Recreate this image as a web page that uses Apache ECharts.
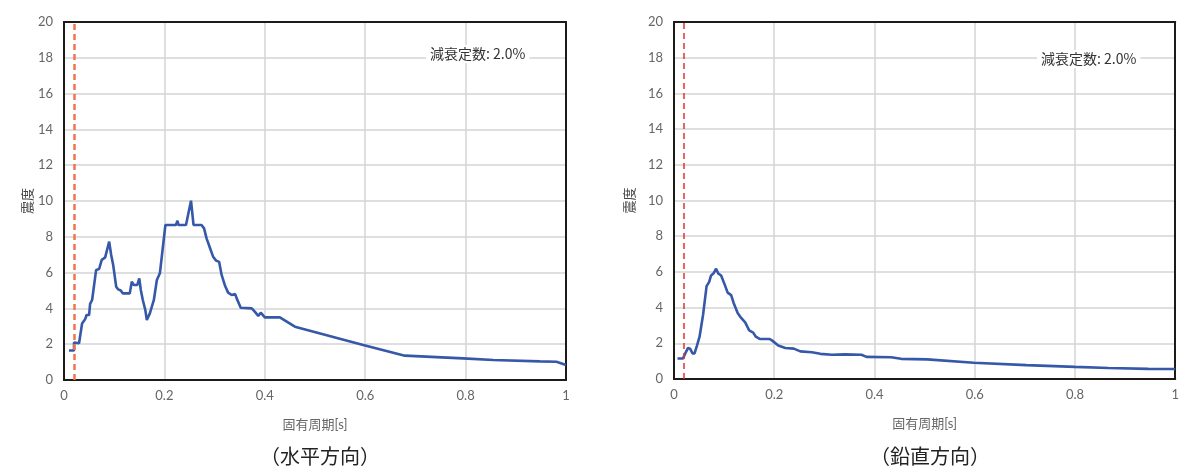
<!DOCTYPE html>
<html>
<head>
<meta charset="utf-8">
<script src="https://cdn.jsdelivr.net/npm/echarts@6/dist/echarts.min.js"></script>
<style>
html,body{margin:0;padding:0;background:#fff;}
#c{width:1182px;height:473px;}
</style>
</head>
<body>
<div id="c"></div>
<script>
// Horizontal (水平方向) response: natural period [s] vs seismic intensity
const periodsH = [0.01, 0.02, 0.02, 0.03, 0.036, 0.042, 0.045, 0.050, 0.052, 0.056, 0.064, 0.070, 0.075, 0.082, 0.085, 0.090, 0.094, 0.098, 0.104, 0.108, 0.113, 0.117, 0.131, 0.135, 0.139, 0.146, 0.150, 0.153, 0.157, 0.162, 0.165, 0.171, 0.179, 0.185, 0.191, 0.202, 0.223, 0.226, 0.228, 0.243, 0.253, 0.258, 0.274, 0.279, 0.284, 0.291, 0.297, 0.303, 0.309, 0.314, 0.321, 0.327, 0.334, 0.341, 0.344, 0.352, 0.374, 0.380, 0.387, 0.392, 0.400, 0.430, 0.46, 0.596, 0.679, 0.795, 0.855, 0.948, 0.981, 1.0];
const valuesH = [1.65, 1.65, 2.1, 2.05, 3.16, 3.39, 3.63, 3.63, 4.25, 4.47, 6.15, 6.2, 6.7, 6.85, 6.85, 7.73, 6.98, 6.42, 5.21, 5.06, 5.0, 4.84, 4.84, 5.49, 5.31, 5.31, 5.68, 5.03, 4.47, 3.91, 3.35, 3.72, 4.47, 5.59, 5.96, 8.66, 8.66, 8.9, 8.66, 8.66, 10.02, 8.66, 8.66, 8.47, 7.91, 7.36, 6.89, 6.67, 6.6, 5.87, 5.25, 4.88, 4.75, 4.8, 4.56, 4.04, 4.0, 3.82, 3.58, 3.76, 3.5, 3.5, 2.98, 1.96, 1.36, 1.21, 1.12, 1.04, 1.02, 0.84];
// Vertical (鉛直方向) response
const periodsV = [0.007, 0.018, 0.021, 0.028, 0.032, 0.037, 0.041, 0.046, 0.051, 0.058, 0.065, 0.070, 0.074, 0.079, 0.084, 0.088, 0.094, 0.101, 0.107, 0.114, 0.119, 0.127, 0.134, 0.142, 0.150, 0.158, 0.163, 0.171, 0.191, 0.196, 0.208, 0.222, 0.239, 0.252, 0.275, 0.292, 0.315, 0.341, 0.374, 0.384, 0.433, 0.453, 0.505, 0.598, 0.703, 0.80, 0.867, 0.946, 1.0];
const valuesV = [1.15, 1.15, 1.35, 1.74, 1.7, 1.43, 1.43, 1.88, 2.37, 3.6, 5.2, 5.43, 5.8, 5.92, 6.18, 5.92, 5.8, 5.3, 4.84, 4.7, 4.26, 3.7, 3.42, 3.17, 2.72, 2.6, 2.38, 2.25, 2.24, 2.15, 1.88, 1.74, 1.7, 1.55, 1.5, 1.41, 1.36, 1.38, 1.36, 1.24, 1.22, 1.13, 1.1, 0.91, 0.78, 0.68, 0.62, 0.57, 0.56];
const cutoffPeriod = 0.02;
const xAxisName = '固有周期[s]';
const yAxisName = '震度';
const noteText = '減衰定数: 2.0%';
const captions = ['（水平方向）', '（鉛直方向）'];

const FONT = "Lato, 'Noto Sans CJK JP', sans-serif";
const LABEL_COLOR = '#666';
const BORDER = { show: true, onZero: false, lineStyle: { color: '#1e1a17', width: 2 } };

function pairs(xs, ys) { return xs.map((x, i) => [x, ys[i]]); }

function xAxisCfg(idx) {
  return {
    type: 'value', gridIndex: idx, min: 0, max: 1, interval: 0.2, position: 'bottom',
    name: xAxisName, nameLocation: 'middle', nameGap: 38,
    nameTextStyle: { color: LABEL_COLOR, fontSize: 13, fontFamily: FONT },
    axisLine: BORDER, axisTick: { show: false },
    axisLabel: { color: LABEL_COLOR, fontSize: 13, fontFamily: FONT, margin: 9,
      formatter: v => (Math.round(v * 10) / 10).toString() },
    splitLine: { show: true, lineStyle: { color: '#d4d4d4', width: 1.5 } }
  };
}
function xAxisTop(idx) {
  return { type: 'value', gridIndex: idx, min: 0, max: 1, position: 'top',
    axisLine: BORDER, axisTick: { show: false }, axisLabel: { show: false }, splitLine: { show: false } };
}
function yAxisCfg(idx, gap) {
  return {
    type: 'value', gridIndex: idx, min: 0, max: 20, interval: 2, position: 'left',
    name: yAxisName, nameLocation: 'middle', nameGap: gap, nameRotate: 90,
    nameTextStyle: { color: '#444', fontSize: 13, fontFamily: FONT },
    axisLine: BORDER, axisTick: { show: false },
    axisLabel: { color: LABEL_COLOR, fontSize: 13, fontFamily: FONT, margin: 11 },
    splitLine: { show: true, lineStyle: { color: '#d4d4d4', width: 1.5 } }
  };
}
function yAxisRight(idx) {
  return { type: 'value', gridIndex: idx, min: 0, max: 20, position: 'right',
    axisLine: BORDER, axisTick: { show: false }, axisLabel: { show: false }, splitLine: { show: false } };
}

const chart = echarts.init(document.getElementById('c'), null, { renderer: 'canvas' });
chart.setOption({
  backgroundColor: '#fff',
  animation: false,
  grid: [
    { left: 64, top: 22, width: 502, height: 358 },
    { left: 674, top: 22, width: 506, height: 357 }
  ],
  xAxis: [xAxisCfg(0), xAxisCfg(1), xAxisTop(0), xAxisTop(1)],
  yAxis: [yAxisCfg(0, 24), yAxisCfg(1, 38), yAxisRight(0), yAxisRight(1)],
  title: [
    { text: captions[0], left: 315, top: 441, textAlign: 'center',
      textStyle: { fontSize: 20, fontWeight: 'normal', color: '#222', fontFamily: "'Noto Sans CJK JP', sans-serif" } },
    { text: captions[1], left: 925, top: 441, textAlign: 'center',
      textStyle: { fontSize: 20, fontWeight: 'normal', color: '#222', fontFamily: "'Noto Sans CJK JP', sans-serif" } }
  ],
  graphic: [
    { type: 'text', left: 426, top: 45, z: 100,
      style: { text: noteText, fill: '#333', font: "14px 'Noto Sans CJK JP', sans-serif",
        backgroundColor: '#fff', padding: [2, 4] } },
    { type: 'text', left: 1037, top: 50, z: 100,
      style: { text: noteText, fill: '#333', font: "14px 'Noto Sans CJK JP', sans-serif",
        backgroundColor: '#fff', padding: [2, 4] } }
  ],
  series: [
    { type: 'line', xAxisIndex: 0, yAxisIndex: 0, data: pairs(periodsH, valuesH),
      showSymbol: false, symbol: 'none', lineStyle: { color: '#3558a8', width: 2.6 }, z: 3,
      markLine: { silent: true, symbol: 'none', label: { show: false },
        lineStyle: { color: '#f07550', width: 2.5, type: [6, 4] },
        data: [{ xAxis: cutoffPeriod }] } },
    { type: 'line', xAxisIndex: 1, yAxisIndex: 1, data: pairs(periodsV, valuesV),
      showSymbol: false, symbol: 'none', lineStyle: { color: '#3558a8', width: 2.6 }, z: 3,
      markLine: { silent: true, symbol: 'none', label: { show: false },
        lineStyle: { color: '#e8302e', width: 1.5, type: [6, 4] },
        data: [{ xAxis: cutoffPeriod }] } }
  ]
});
</script>
</body>
</html>
